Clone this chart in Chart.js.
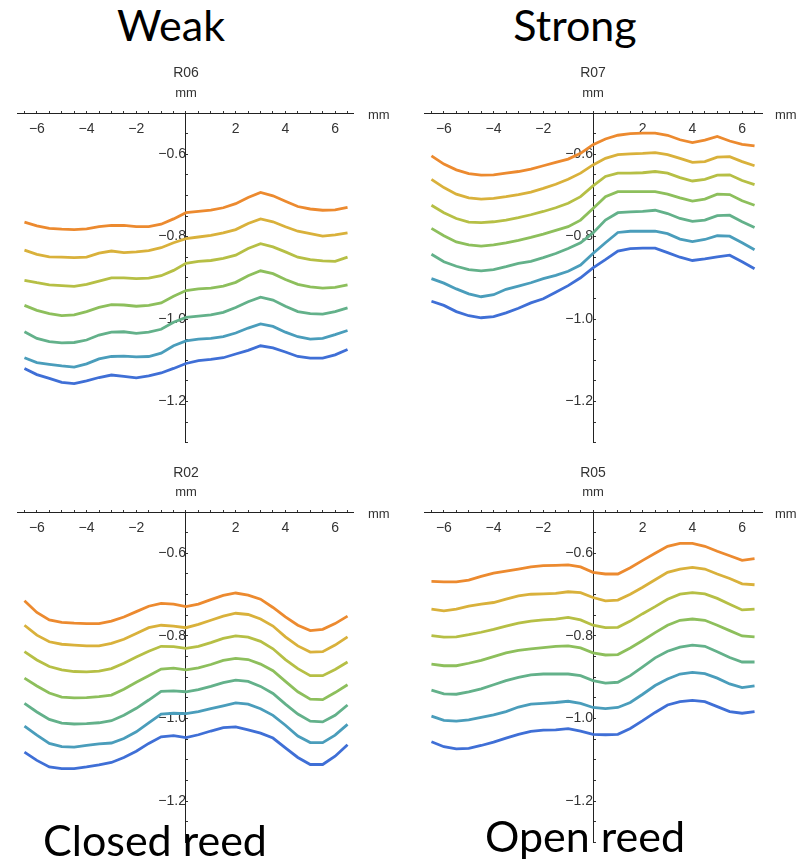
<!DOCTYPE html>
<html>
<head>
<meta charset="utf-8">
<script src="https://cdn.jsdelivr.net/npm/chart.js@4.4.1/dist/chart.umd.min.js"></script>
<style>
  body { margin: 0; background: #fff; }
  #page { position: relative; width: 812px; height: 862px; overflow: hidden; }
  canvas { position: absolute; }
  .lbl { position: absolute; font-family: "Liberation Sans", Arial, sans-serif; color: #333; line-height: 1; white-space: nowrap; }
  .ttl { font-size: 14px; transform: translateX(-50%); }
  .unit { font-size: 13px; }
  .big { position: absolute; font-family: Lato, sans-serif; font-size: 43px; line-height: 1; color: #000; transform: translateX(-50%); white-space: nowrap; }
</style>
</head>
<body>
<div id="page">
  <div class="big" style="left:171px; top:3px;">Weak</div>
  <div class="big" style="left:575px; top:3px;">Strong</div>

  <canvas id="r06" width="400" height="400" style="left:0px; top:60px;"></canvas>
  <canvas id="r07" width="400" height="400" style="left:400px; top:60px;"></canvas>
  <canvas id="r02" width="400" height="400" style="left:0px; top:460px;"></canvas>
  <canvas id="r05" width="400" height="400" style="left:400px; top:460px;"></canvas>

  <div class="lbl ttl" style="left:186px; top:65px;">R06</div>
  <div class="lbl unit ttl" style="left:186px; top:86px;">mm</div>
  <div class="lbl unit" style="left:368px; top:108px;">mm</div>

  <div class="lbl ttl" style="left:593px; top:65px;">R07</div>
  <div class="lbl unit ttl" style="left:593px; top:86px;">mm</div>
  <div class="lbl unit" style="left:775px; top:108px;">mm</div>

  <div class="lbl ttl" style="left:186px; top:465px;">R02</div>
  <div class="lbl unit ttl" style="left:186px; top:485px;">mm</div>
  <div class="lbl unit" style="left:368px; top:507px;">mm</div>

  <div class="lbl ttl" style="left:593px; top:465px;">R05</div>
  <div class="lbl unit ttl" style="left:593px; top:485px;">mm</div>
  <div class="lbl unit" style="left:775px; top:507px;">mm</div>

  <div class="big" style="left:155px; top:818px;">Closed reed</div>
  <div class="big" style="left:585px; top:814px;">Open reed</div>
</div>

<script>
// position along the reed (mm), shared by every curve
const xGrid = [-6.5, -6, -5.5, -5, -4.5, -4, -3.5, -3, -2.5, -2, -1.5, -1, -0.5, 0,
               0.5, 1, 1.5, 2, 2.5, 3, 3.5, 4, 4.5, 5, 5.5, 6, 6.5];

// line colours, top curve (orange) to bottom curve (blue)
const lineColors = ['#ec8a2f', '#d9b13b', '#b6bf45', '#8dbf5c', '#63b18a', '#4a9dbb', '#3f6fd6'];

// y tick labels shown
const yLabelTicks = [-0.6, -0.8, -1.0, -1.2];
// x tick labels shown
const xLabelTicks = [-6, -4, -2, 2, 4, 6];

// R06 (weak, closed)
const r06 = [
  [-0.765,-0.774,-0.780,-0.782,-0.783,-0.781,-0.776,-0.773,-0.773,-0.776,-0.776,-0.770,-0.757,-0.742,-0.739,-0.736,-0.730,-0.720,-0.705,-0.693,-0.701,-0.714,-0.727,-0.733,-0.736,-0.735,-0.729],
  [-0.833,-0.843,-0.849,-0.850,-0.851,-0.850,-0.840,-0.835,-0.839,-0.837,-0.834,-0.827,-0.815,-0.805,-0.801,-0.797,-0.791,-0.783,-0.768,-0.757,-0.764,-0.776,-0.787,-0.793,-0.799,-0.796,-0.791],
  [-0.906,-0.912,-0.917,-0.919,-0.921,-0.916,-0.908,-0.900,-0.900,-0.902,-0.901,-0.895,-0.882,-0.865,-0.860,-0.858,-0.853,-0.845,-0.829,-0.817,-0.825,-0.837,-0.850,-0.856,-0.859,-0.860,-0.850],
  [-0.967,-0.979,-0.987,-0.992,-0.990,-0.982,-0.972,-0.965,-0.966,-0.969,-0.967,-0.961,-0.945,-0.931,-0.927,-0.925,-0.920,-0.911,-0.895,-0.883,-0.890,-0.904,-0.916,-0.922,-0.925,-0.923,-0.917],
  [-1.031,-1.047,-1.055,-1.058,-1.057,-1.051,-1.039,-1.032,-1.031,-1.035,-1.032,-1.025,-1.008,-0.996,-0.993,-0.990,-0.984,-0.972,-0.958,-0.947,-0.954,-0.969,-0.982,-0.987,-0.988,-0.982,-0.973],
  [-1.094,-1.106,-1.110,-1.114,-1.117,-1.109,-1.097,-1.091,-1.090,-1.092,-1.091,-1.083,-1.065,-1.053,-1.049,-1.047,-1.043,-1.034,-1.022,-1.012,-1.018,-1.032,-1.043,-1.049,-1.047,-1.038,-1.028],
  [-1.120,-1.135,-1.144,-1.154,-1.157,-1.150,-1.142,-1.136,-1.139,-1.143,-1.138,-1.131,-1.120,-1.108,-1.101,-1.098,-1.094,-1.085,-1.076,-1.065,-1.070,-1.080,-1.091,-1.095,-1.095,-1.087,-1.074]
];

// R07 (strong, closed)
const r07 = [
  [-0.604,-0.624,-0.638,-0.647,-0.651,-0.650,-0.646,-0.642,-0.636,-0.628,-0.620,-0.612,-0.598,-0.577,-0.563,-0.554,-0.550,-0.549,-0.549,-0.554,-0.565,-0.572,-0.566,-0.557,-0.568,-0.576,-0.580],
  [-0.661,-0.681,-0.697,-0.706,-0.709,-0.707,-0.703,-0.698,-0.692,-0.683,-0.673,-0.661,-0.646,-0.626,-0.610,-0.601,-0.599,-0.598,-0.596,-0.601,-0.610,-0.620,-0.618,-0.607,-0.606,-0.618,-0.628],
  [-0.724,-0.742,-0.756,-0.765,-0.766,-0.764,-0.760,-0.754,-0.747,-0.739,-0.730,-0.719,-0.703,-0.677,-0.654,-0.646,-0.646,-0.645,-0.642,-0.646,-0.657,-0.665,-0.661,-0.651,-0.650,-0.664,-0.674],
  [-0.780,-0.798,-0.813,-0.820,-0.823,-0.820,-0.815,-0.809,-0.802,-0.794,-0.785,-0.776,-0.760,-0.732,-0.703,-0.691,-0.691,-0.691,-0.691,-0.697,-0.706,-0.714,-0.709,-0.697,-0.698,-0.713,-0.724],
  [-0.843,-0.861,-0.872,-0.880,-0.883,-0.880,-0.873,-0.865,-0.860,-0.851,-0.841,-0.829,-0.815,-0.791,-0.760,-0.742,-0.740,-0.739,-0.736,-0.744,-0.756,-0.763,-0.760,-0.749,-0.748,-0.764,-0.778],
  [-0.902,-0.913,-0.927,-0.939,-0.946,-0.941,-0.928,-0.920,-0.912,-0.902,-0.894,-0.884,-0.869,-0.841,-0.815,-0.790,-0.787,-0.787,-0.787,-0.793,-0.806,-0.812,-0.807,-0.798,-0.799,-0.815,-0.832],
  [-0.957,-0.967,-0.982,-0.992,-0.997,-0.994,-0.985,-0.974,-0.961,-0.951,-0.935,-0.919,-0.900,-0.876,-0.856,-0.835,-0.829,-0.828,-0.828,-0.839,-0.850,-0.858,-0.854,-0.849,-0.845,-0.861,-0.878]
];

// R02 (closed reed)
const r02 = [
  [-0.715,-0.743,-0.761,-0.767,-0.769,-0.770,-0.770,-0.764,-0.754,-0.741,-0.728,-0.721,-0.723,-0.729,-0.723,-0.712,-0.702,-0.696,-0.701,-0.711,-0.731,-0.754,-0.774,-0.787,-0.784,-0.770,-0.752],
  [-0.774,-0.798,-0.814,-0.820,-0.822,-0.824,-0.824,-0.818,-0.808,-0.794,-0.780,-0.774,-0.776,-0.780,-0.772,-0.762,-0.752,-0.745,-0.748,-0.759,-0.776,-0.802,-0.824,-0.839,-0.838,-0.822,-0.802],
  [-0.838,-0.858,-0.874,-0.882,-0.886,-0.887,-0.885,-0.879,-0.866,-0.851,-0.837,-0.825,-0.826,-0.830,-0.825,-0.816,-0.806,-0.800,-0.803,-0.813,-0.831,-0.857,-0.879,-0.896,-0.896,-0.881,-0.863],
  [-0.902,-0.921,-0.938,-0.948,-0.950,-0.949,-0.947,-0.943,-0.929,-0.912,-0.896,-0.880,-0.878,-0.882,-0.877,-0.869,-0.859,-0.854,-0.857,-0.868,-0.884,-0.910,-0.935,-0.953,-0.954,-0.937,-0.918],
  [-0.963,-0.984,-1.002,-1.011,-1.013,-1.012,-1.010,-1.005,-0.992,-0.975,-0.955,-0.934,-0.933,-0.935,-0.930,-0.922,-0.913,-0.907,-0.910,-0.922,-0.939,-0.965,-0.989,-1.006,-1.008,-0.992,-0.967],
  [-1.018,-1.040,-1.060,-1.068,-1.069,-1.065,-1.061,-1.059,-1.048,-1.032,-1.010,-0.989,-0.987,-0.988,-0.983,-0.976,-0.969,-0.962,-0.965,-0.976,-0.992,-1.016,-1.042,-1.058,-1.058,-1.040,-1.014],
  [-1.081,-1.101,-1.117,-1.121,-1.121,-1.117,-1.112,-1.106,-1.094,-1.079,-1.060,-1.044,-1.041,-1.046,-1.039,-1.030,-1.022,-1.020,-1.027,-1.035,-1.047,-1.071,-1.094,-1.111,-1.111,-1.091,-1.063]
];

// R05 (open reed)
const r05 = [
  [-0.668,-0.669,-0.669,-0.665,-0.656,-0.648,-0.643,-0.638,-0.633,-0.630,-0.629,-0.628,-0.633,-0.646,-0.650,-0.650,-0.635,-0.617,-0.600,-0.583,-0.576,-0.576,-0.583,-0.595,-0.606,-0.617,-0.613],
  [-0.735,-0.739,-0.735,-0.728,-0.723,-0.719,-0.711,-0.703,-0.699,-0.698,-0.697,-0.693,-0.695,-0.707,-0.715,-0.713,-0.699,-0.682,-0.664,-0.646,-0.638,-0.634,-0.638,-0.650,-0.661,-0.674,-0.676],
  [-0.799,-0.803,-0.802,-0.797,-0.791,-0.784,-0.776,-0.769,-0.764,-0.761,-0.759,-0.755,-0.761,-0.774,-0.780,-0.779,-0.764,-0.746,-0.729,-0.711,-0.699,-0.695,-0.698,-0.709,-0.723,-0.737,-0.735],
  [-0.868,-0.872,-0.872,-0.866,-0.859,-0.850,-0.841,-0.835,-0.831,-0.828,-0.825,-0.824,-0.829,-0.841,-0.846,-0.845,-0.829,-0.811,-0.792,-0.774,-0.762,-0.759,-0.762,-0.774,-0.787,-0.800,-0.802],
  [-0.931,-0.940,-0.941,-0.935,-0.928,-0.918,-0.908,-0.900,-0.894,-0.892,-0.892,-0.892,-0.896,-0.908,-0.914,-0.912,-0.896,-0.875,-0.853,-0.837,-0.827,-0.822,-0.825,-0.838,-0.852,-0.863,-0.863],
  [-0.994,-1.004,-1.006,-1.003,-0.997,-0.991,-0.983,-0.972,-0.965,-0.963,-0.961,-0.958,-0.963,-0.973,-0.976,-0.973,-0.961,-0.941,-0.920,-0.904,-0.892,-0.888,-0.891,-0.902,-0.916,-0.925,-0.921],
  [-1.056,-1.068,-1.073,-1.072,-1.065,-1.057,-1.047,-1.038,-1.031,-1.028,-1.027,-1.024,-1.030,-1.038,-1.039,-1.038,-1.024,-1.005,-0.985,-0.967,-0.959,-0.956,-0.959,-0.971,-0.983,-0.987,-0.983]
];

document.addEventListener("DOMContentLoaded", function () {
  profile_chart('r06', r06, -6.8, 6.72, {left: 17, right: 47, top: 53, bottom: 8});
  profile_chart('r07', r07, -6.8, 6.8, {left: 24, right: 38, top: 53, bottom: 8});
  profile_chart('r02', r02, -6.8, 6.72, {left: 17, right: 47, top: 52, bottom: 9});
  profile_chart('r05', r05, -6.8, 6.8, {left: 24, right: 38, top: 52, bottom: 9});
});

function minus(v, digits) {
  return (v < 0 ? '\u2212' : '') + Math.abs(v).toFixed(digits);
}

function hasLabel(list, v) {
  return list.some(t => Math.abs(t - v) < 1e-6);
}

// one panel: 7 profile curves, axes crossing at x = 0 / y = -0.5
function profile_chart(id, series, xMin, xMax, pad) {
  const datasets = series.map((ys, i) => ({
    data: ys.map((y, j) => ({x: xGrid[j], y: y})),
    borderColor: lineColors[i],
    borderWidth: 2.8,
    pointRadius: 0,
    tension: 0,
    fill: false
  }));

  const axisFont = {family: '"Liberation Sans", Arial, sans-serif', size: 14};

  const ctx = document.getElementById(id).getContext('2d');
  new Chart(ctx, {
    type: 'line',
    data: {datasets: datasets},
    options: {
      responsive: false,
      animation: false,
      layout: {padding: pad},
      plugins: {legend: {display: false}, tooltip: {enabled: false}},
      scales: {
        x: {
          type: 'linear',
          min: xMin,
          max: xMax,
          position: {y: -0.5},
          grid: {drawOnChartArea: false, tickLength: -3, tickColor: '#333'},
          border: {color: '#222', width: 1},
          ticks: {
            stepSize: 0.5,
            includeBounds: false,
            autoSkip: false,
            maxRotation: 0,
            padding: 11,
            color: '#333',
            font: axisFont,
            callback: v => hasLabel(xLabelTicks, v) ? minus(v, 0) : ''
          }
        },
        y: {
          type: 'linear',
          min: -1.3,
          max: -0.5,
          position: {x: 0},
          grid: {drawOnChartArea: false, tickLength: -3, tickColor: '#333'},
          border: {color: '#222', width: 1},
          ticks: {
            stepSize: 0.05,
            includeBounds: false,
            autoSkip: false,
            padding: 9,
            color: '#333',
            font: axisFont,
            callback: v => hasLabel(yLabelTicks, v) ? minus(v, 1) : ''
          }
        }
      }
    }
  });
}
</script>
</body>
</html>
